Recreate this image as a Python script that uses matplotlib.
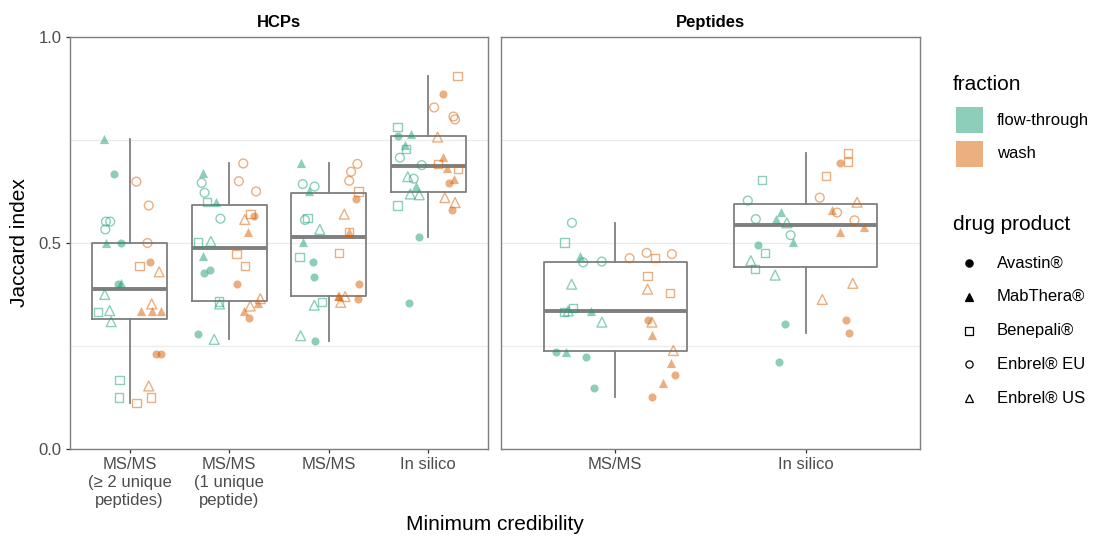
import numpy as np
import matplotlib.pyplot as plt
from matplotlib.lines import Line2D
from matplotlib.patches import Rectangle

plt.rcParams['font.family'] = ['Liberation Sans', 'DejaVu Sans']

products = ['Avastin®', 'MabThera®', 'Benepali®', 'Enbrel® EU', 'Enbrel® US']
fractions = ['flow-through', 'wash']
hcp_levels = ['MS/MS\n(≥ 2 unique\npeptides)', 'MS/MS\n(1 unique\npeptide)', 'MS/MS', 'In silico']
pep_levels = ['MS/MS', 'In silico']

# Jaccard index, 3 replicates per product (products in the order above)
hcp_ms2_ft = [0.667, 0.500, 0.400, 0.752, 0.501, 0.402, 0.333, 0.167, 0.125,
              0.552, 0.552, 0.533, 0.375, 0.336, 0.309]
hcp_ms2_wash = [0.455, 0.231, 0.231, 0.335, 0.335, 0.335, 0.444, 0.125, 0.111,
                0.649, 0.591, 0.500, 0.430, 0.352, 0.153]
hcp_ms1_ft = [0.434, 0.428, 0.278, 0.669, 0.600, 0.468, 0.600, 0.501, 0.358,
              0.646, 0.622, 0.559, 0.504, 0.352, 0.266]
hcp_ms1_wash = [0.566, 0.400, 0.318, 0.527, 0.354, 0.335, 0.571, 0.473, 0.444,
                0.693, 0.650, 0.625, 0.557, 0.365, 0.347]
hcp_ms_ft = [0.454, 0.417, 0.263, 0.693, 0.626, 0.502, 0.561, 0.466, 0.357,
             0.643, 0.637, 0.556, 0.533, 0.349, 0.275]
hcp_ms_wash = [0.608, 0.400, 0.363, 0.526, 0.371, 0.371, 0.625, 0.526, 0.476,
               0.692, 0.673, 0.651, 0.570, 0.370, 0.356]
hcp_insilico_ft = [0.760, 0.515, 0.354, 0.765, 0.738, 0.639, 0.782, 0.728, 0.591,
                   0.707, 0.689, 0.656, 0.661, 0.619, 0.617]
hcp_insilico_wash = [0.862, 0.645, 0.580, 0.709, 0.683, 0.655, 0.905, 0.692, 0.679,
                     0.829, 0.807, 0.800, 0.757, 0.610, 0.598]
pep_ms_ft = [0.235, 0.224, 0.147, 0.468, 0.335, 0.236, 0.501, 0.343, 0.333,
             0.549, 0.455, 0.453, 0.400, 0.335, 0.308]
pep_ms_wash = [0.314, 0.180, 0.127, 0.277, 0.208, 0.159, 0.463, 0.420, 0.379,
               0.476, 0.473, 0.463, 0.388, 0.308, 0.239]
pep_insilico_ft = [0.494, 0.303, 0.211, 0.575, 0.559, 0.502, 0.653, 0.476, 0.437,
                   0.603, 0.558, 0.519, 0.549, 0.457, 0.422]
pep_insilico_wash = [0.694, 0.314, 0.281, 0.580, 0.540, 0.526, 0.718, 0.697, 0.663,
                     0.610, 0.574, 0.555, 0.599, 0.402, 0.363]

hcp_data = [(hcp_ms2_ft, hcp_ms2_wash), (hcp_ms1_ft, hcp_ms1_wash),
            (hcp_ms_ft, hcp_ms_wash), (hcp_insilico_ft, hcp_insilico_wash)]
pep_data = [(pep_ms_ft, pep_ms_wash), (pep_insilico_ft, pep_insilico_wash)]

# Dark2 colours, drawn at alpha 0.5
frac_colors = ['#1B9E77', '#D95F02']
frac_keys = ['#8DCEBB', '#ECAF80']
# marker, filled, size
shapes = [('o', True, 34), ('^', True, 44), ('s', False, 36), ('o', False, 40), ('^', False, 50)]

W, H = 1095, 539
fig = plt.figure(figsize=(W / 100, H / 100), dpi=100)


def px_axes(l, t, r, b):
    return fig.add_axes([l / W, 1 - b / H, (r - l) / W, (b - t) / H])


rng = np.random.default_rng(7)


def draw_panel(ax, levels, data, title):
    pos = np.arange(len(levels))
    allvals = [np.array(ft + wa) for ft, wa in data]
    ax.boxplot(allvals, positions=pos, widths=0.75, whis=1.5, showfliers=False,
               showcaps=False, manage_ticks=False,
               boxprops=dict(color='#7F7F7F', lw=1.3),
               whiskerprops=dict(color='#7F7F7F', lw=1.3),
               medianprops=dict(color='#7F7F7F', lw=2.8, solid_capstyle='butt'),
               zorder=2)
    for i, (ft, wa) in enumerate(data):
        for f, vals in enumerate((ft, wa)):
            dodge = -0.1875 if f == 0 else 0.1875
            for p, (mk, filled, sz) in enumerate(shapes):
                yv = vals[p * 3:(p + 1) * 3]
                xv = i + dodge + rng.uniform(-0.13, 0.13, len(yv))
                if filled:
                    ax.scatter(xv, yv, marker=mk, s=sz, color=frac_colors[f],
                               alpha=0.5, linewidths=0, zorder=3)
                else:
                    ax.scatter(xv, yv, marker=mk, s=sz, facecolors='none',
                               edgecolors=frac_colors[f], alpha=0.5,
                               linewidths=1.0, zorder=3)
    ax.set_xlim(-0.6, len(levels) - 0.4)
    ax.set_ylim(0, 1)
    ax.set_xticks(pos)
    ax.set_xticklabels(levels, linespacing=1.25, va='top')
    ax.set_yticks([0, 0.5, 1.0])
    ax.set_yticklabels(['0.0', '0.5', '1.0'])
    ax.set_yticks([0.25, 0.75], minor=True)
    ax.grid(axis='y', which='both', color='#EBEBEB', lw=0.9)
    ax.set_axisbelow(True)
    ax.tick_params(axis='both', which='major', length=3, width=0.9, color='#333333',
                   labelcolor='#4D4D4D', labelsize=12, pad=3)
    ax.tick_params(axis='y', which='minor', length=0)
    for s in ax.spines.values():
        s.set_color('#7F7F7F')
        s.set_linewidth(1.0)
    ax.set_title(title, fontweight='bold', fontsize=12, pad=7)


ax1 = px_axes(70, 37, 488, 449)
ax2 = px_axes(501, 37, 920, 449)
draw_panel(ax1, hcp_levels, hcp_data, 'HCPs')
draw_panel(ax2, pep_levels, pep_data, 'Peptides')
ax2.tick_params(axis='y', which='major', left=False, labelleft=False)

fig.text(20 / W, 1 - 243 / H, 'Jaccard index', rotation=90, ha='center', va='center', fontsize=15)
fig.text(495 / W, 1 - 525 / H, 'Minimum credibility', ha='center', va='center', fontsize=15)

# legends, drawn in pixel space on an overlay axes
lg = fig.add_axes([0, 0, 1, 1])
lg.set_xlim(0, W)
lg.set_ylim(H, 0)
lg.axis('off')

lg.text(953, 84, 'fraction', fontsize=15, va='center', ha='left')
for k, (name, col) in enumerate(zip(fractions, frac_keys)):
    y0 = 107 + 34 * k
    lg.add_patch(Rectangle((956, y0), 27, 26, facecolor=col, edgecolor='none'))
    lg.text(997, y0 + 13, name, fontsize=12, va='center', ha='left')

lg.text(953, 225, 'drug product', fontsize=15, va='center', ha='left')
for k, (name, (mk, filled, sz)) in enumerate(zip(products, shapes)):
    y0 = 263 + 33.8 * k
    lg.add_line(Line2D([969], [y0], marker=mk, markersize=5.2 if mk != '^' else 6,
                       markerfacecolor='black' if filled else 'none',
                       markeredgecolor='black', markeredgewidth=0.9, linestyle='none'))
    lg.text(997, y0, name, fontsize=12, va='center', ha='left')

fig.savefig('out.png', dpi=100)
